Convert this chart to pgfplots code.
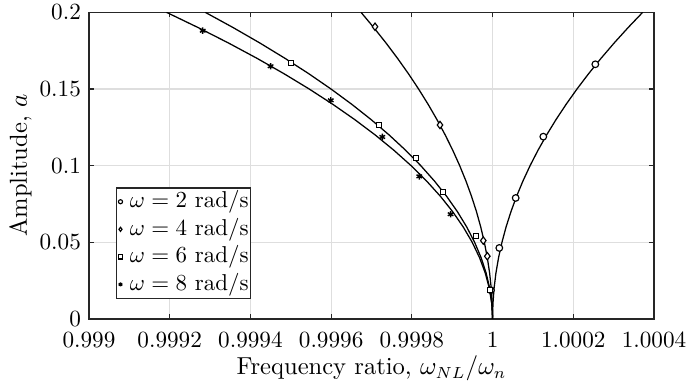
\documentclass[border=0pt]{standalone}
\usepackage{pgfplots}
\pgfplotsset{compat=1.18}
\definecolor{axgray}{rgb}{0.15,0.15,0.15}
\definecolor{gridgray}{rgb}{0.87,0.87,0.87}
\begin{document}
\begin{tikzpicture}
\begin{axis}[
  scale only axis, width=246pt, height=133.5pt,
  xmin=0.999, xmax=1.0004, ymin=0, ymax=0.2,
  xtick={0.999,0.9992,0.9994,0.9996,0.9998,1,1.0002,1.0004},
  xticklabels={0.999,0.9992,0.9994,0.9996,0.9998,1,1.0002,1.0004},
  ytick={0,0.05,0.1,0.15,0.2},
  yticklabels={0,0.05,0.1,0.15,0.2},
  scaled ticks=false,
  tick align=inside, major tick length=2pt,
  grid=major, grid style={gridgray, line width=0.5pt},
  axis line style={axgray, line width=0.5pt},
  tick style={axgray, line width=0.5pt},
  tick label style={font=\fontsize{10.1}{12}\selectfont},
  xticklabel style={yshift=-2.2pt},
  xlabel={Frequency ratio, $\omega_{NL}/\omega_n$},
  ylabel={Amplitude, $a$},
  label style={font=\fontsize{10.7}{13}\selectfont},
  xlabel style={at={(axis description cs:0.5,-0.1813)}, anchor=base},
  ylabel style={at={(axis description cs:-0.1211,0.5)}, anchor=center},
  legend style={at={(axis description cs:0.047,0.429)}, anchor=north west, draw=axgray, fill=white, line width=0.5pt, inner xsep=0pt, inner ysep=0pt, nodes={inner sep=1pt, text height=7.5pt, text depth=2.5pt}, row sep=0pt, column sep=0pt},
  legend cell align=left,
  legend image code/.code={\path[draw=none,fill=none] (0pt,0pt) -- (5pt,0pt); \draw[#1, mark size=0.9pt] plot coordinates {(1.9pt,0pt)};},
]
\coordinate (A) at (rel axis cs:0,0);
\coordinate (B) at (rel axis cs:1,1);
% omega = 2
\addplot[black, line width=0.55pt, forget plot] coordinates {
(1,0) (1.00000093,0.01) (1.00000372,0.02) (1.00000837,0.03) (1.00001488,0.04)
(1.00002325,0.05) (1.00003348,0.06) (1.00004557,0.07) (1.00005952,0.08)
(1.00007533,0.09) (1.000093,0.10) (1.00011253,0.11) (1.00013392,0.12)
(1.00015717,0.13) (1.00018228,0.14) (1.00020925,0.15) (1.00023808,0.16)
(1.00026877,0.17) (1.00030132,0.18) (1.00033573,0.19) (1.000372,0.20)};
\addplot[only marks, mark=*, mark size=1.45pt, mark options={fill=white, draw=black, line width=0.5pt}] coordinates {
(0.999996,0.0187) (1.0000167,0.0463) (1.0000573,0.0789) (1.0001257,0.1189) (1.0002546,0.1661)};
\addlegendentry{$\omega = 2$ rad/s}
% omega = 4
\addplot[black, line width=0.55pt, forget plot] coordinates {
(1,0) (0.999999185,0.01) (0.99999674,0.02) (0.999992665,0.03) (0.99998696,0.04)
(0.999979625,0.05) (0.99997066,0.06) (0.999960065,0.07) (0.99994784,0.08)
(0.999933985,0.09) (0.9999185,0.10) (0.999901385,0.11) (0.99988264,0.12)
(0.999862265,0.13) (0.99984026,0.14) (0.999816625,0.15) (0.99979136,0.16)
(0.999764465,0.17) (0.99973594,0.18) (0.999705785,0.19) (0.999674,0.20)};
\addplot[only marks, mark=diamond*, mark size=1.6pt, mark options={fill=white, draw=black, line width=0.5pt}] coordinates {
(0.999987,0.0409) (0.999977,0.0511) (0.9998697,0.1265) (0.9997087,0.1906)};
\addlegendentry{$\omega = 4$ rad/s}
% omega = 6
\addplot[black, line width=0.55pt, forget plot] coordinates {
(1,0) (0.99999822,0.01) (0.99999288,0.02) (0.99998398,0.03) (0.99997152,0.04)
(0.9999555,0.05) (0.99993592,0.06) (0.99991278,0.07) (0.99988608,0.08)
(0.99985582,0.09) (0.999822,0.10) (0.99978462,0.11) (0.99974368,0.12)
(0.99969918,0.13) (0.99965112,0.14) (0.9995995,0.15) (0.99954432,0.16)
(0.99948558,0.17) (0.99942328,0.18) (0.99935742,0.19) (0.999288,0.20)};
\addplot[only marks, mark=square*, mark size=1.1pt, mark options={fill=white, draw=black, line width=0.5pt}] coordinates {
(0.999994,0.0189) (0.999958,0.0543) (0.9998764,0.0826) (0.9998095,0.1052) (0.9997194,0.1263) (0.9995014,0.1667)};
\addlegendentry{$\omega = 6$ rad/s}
% omega = 8
\addplot[black, line width=0.55pt, forget plot] coordinates {
(1,0) (0.99999798,0.01) (0.99999192,0.02) (0.99998182,0.03) (0.99996768,0.04)
(0.9999495,0.05) (0.99992728,0.06) (0.99990102,0.07) (0.99987072,0.08)
(0.99983638,0.09) (0.999798,0.10) (0.99975558,0.11) (0.99970912,0.12)
(0.99965862,0.13) (0.99960408,0.14) (0.9995455,0.15) (0.99948288,0.16)
(0.99941622,0.17) (0.99934552,0.18) (0.99927078,0.19) (0.999192,0.20)};
\addplot[only marks, mark=asterisk, mark size=1.4pt, mark options={draw=black, line width=0.6pt}] coordinates {
(0.999896,0.0683) (0.9998185,0.0930) (0.9997268,0.1187) (0.999599,0.1426) (0.99945,0.1648) (0.9992817,0.1880)};
\addlegendentry{$\omega = 8$ rad/s}
\end{axis}
\pgfresetboundingbox
\path ([xshift=-38.75pt,yshift=-30.04pt]A) rectangle ([xshift=15.24pt,yshift=5.36pt]B);
\end{tikzpicture}
\end{document}
